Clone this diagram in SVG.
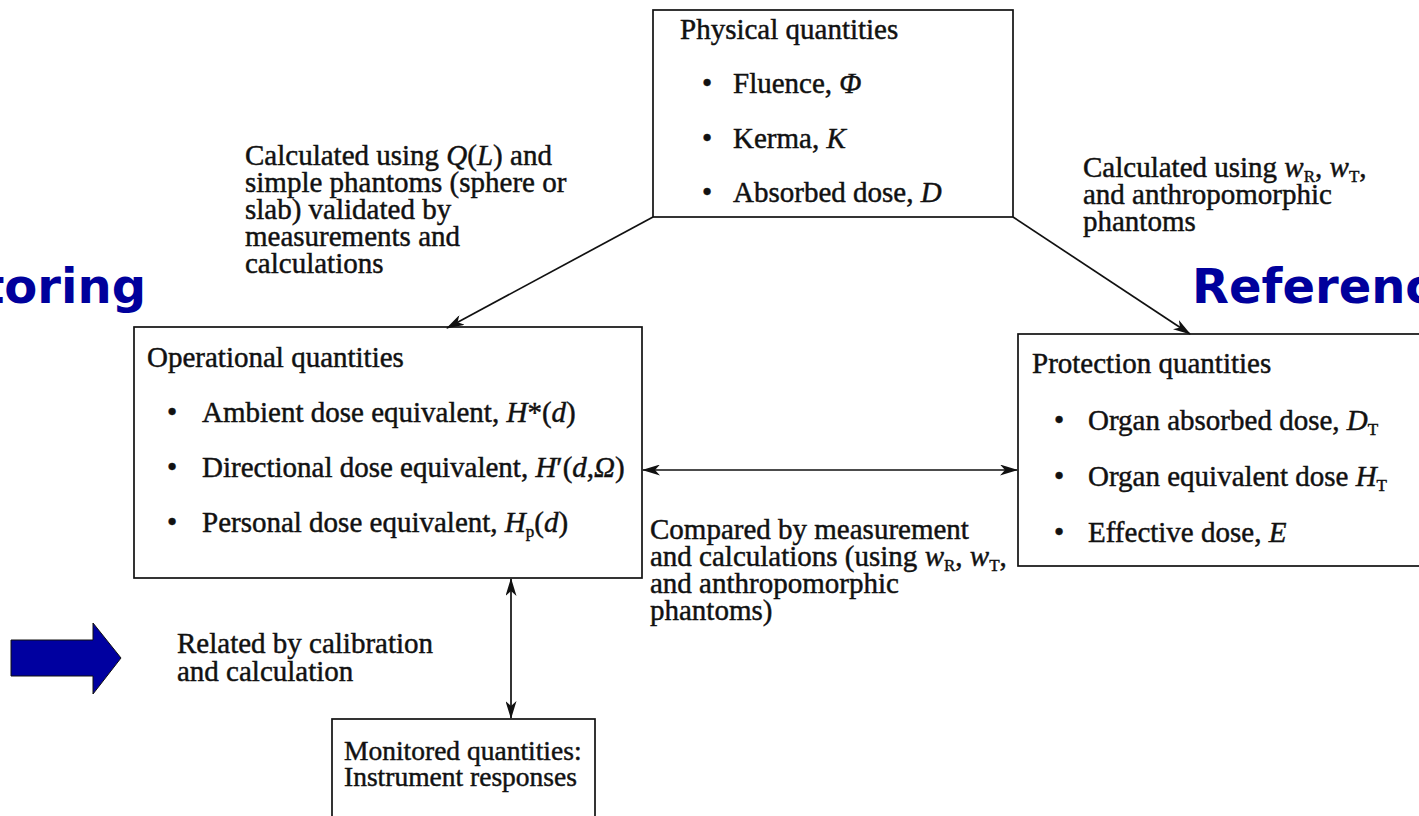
<svg xmlns="http://www.w3.org/2000/svg" width="1419" height="816" viewBox="0 0 1419 816">
<style>
.t{font-family:"Liberation Serif","Times New Roman",serif;font-size:29px;fill:#111;stroke:#111;stroke-width:0.45;}
.m{font-size:27.5px;}
.i{font-style:italic;}
.s{font-size:17px;}
.box{fill:none;stroke:#111;stroke-width:1.7;}
.ln{fill:none;stroke:#111;stroke-width:1.7;}
.big{font-family:"DejaVu Sans",Verdana,sans-serif;font-weight:bold;font-size:48px;fill:#00009c;}
</style>
<defs>
<marker id="ah" viewBox="0 0 18 11" refX="17" refY="5.5" markerWidth="18" markerHeight="11" markerUnits="userSpaceOnUse" orient="auto-start-reverse">
<path d="M0,0 L18,5.5 L0,11 L5,5.5 z" fill="#111"/>
</marker>
</defs>
<rect width="1419" height="816" fill="#ffffff"/>

<g id="side-labels">
<text class="big" x="146" y="303" text-anchor="end">toring</text>
<text class="big" x="1192" y="303">Referenc</text>
<polygon points="11,640 93,640 93,623 121,658 93,694 93,676 11,676" fill="#0000a0" stroke="#111" stroke-width="1"/>
</g>

<g id="connectors">
<line class="ln" x1="653" y1="217" x2="447" y2="328" marker-end="url(#ah)"/>
<line class="ln" x1="1013" y1="217" x2="1190" y2="334" marker-end="url(#ah)"/>
<line class="ln" x1="643" y1="470" x2="1017" y2="470" marker-start="url(#ah)" marker-end="url(#ah)"/>
<line class="ln" x1="511" y1="579" x2="511" y2="718" marker-start="url(#ah)" marker-end="url(#ah)"/>
</g>

<g id="physical">
<rect class="box" x="653" y="10" width="360" height="207"/>
<text class="t" x="680" y="39">Physical quantities</text>
<text class="t" x="702" y="93">•</text><text class="t" x="733" y="93">Fluence, <tspan class="i">Φ</tspan></text>
<text class="t" x="702" y="148">•</text><text class="t" x="733" y="148">Kerma, <tspan class="i">K</tspan></text>
<text class="t" x="702" y="202">•</text><text class="t" x="733" y="202">Absorbed dose, <tspan class="i">D</tspan></text>
</g>

<g id="operational">
<rect class="box" x="134" y="327" width="508" height="251"/>
<text class="t" x="147" y="367">Operational quantities</text>
<text class="t" x="167" y="422">•</text><text class="t" x="202" y="422">Ambient dose equivalent, <tspan class="i">H</tspan>*(<tspan class="i">d</tspan>)</text>
<text class="t" x="167" y="477">•</text><text class="t" x="202" y="477">Directional dose equivalent, <tspan class="i">H</tspan>′(<tspan class="i">d</tspan>,<tspan class="i">Ω</tspan>)</text>
<text class="t" x="167" y="532">•</text><text class="t" x="202" y="532">Personal dose equivalent, <tspan class="i">H</tspan><tspan class="s" dy="5">p</tspan><tspan dy="-5">(</tspan><tspan class="i">d</tspan>)</text>
</g>

<g id="protection">
<rect class="box" x="1018" y="334" width="430" height="232"/>
<text class="t" x="1032" y="373">Protection quantities</text>
<text class="t" x="1054" y="430">•</text><text class="t" x="1088" y="430">Organ absorbed dose, <tspan class="i">D</tspan><tspan class="s" dy="5">T</tspan></text>
<text class="t" x="1054" y="486">•</text><text class="t" x="1088" y="486">Organ equivalent dose <tspan class="i">H</tspan><tspan class="s" dy="5">T</tspan></text>
<text class="t" x="1054" y="542">•</text><text class="t" x="1088" y="542">Effective dose, <tspan class="i">E</tspan></text>
</g>

<g id="monitored">
<rect class="box" x="332" y="719" width="263" height="120"/>
<text class="t m" x="344" y="760">Monitored quantities:<tspan x="344" y="786">Instrument responses</tspan></text>
</g>

<g id="label-left">
<text class="t" x="245" y="165">Calculated using <tspan class="i">Q</tspan>(<tspan class="i">L</tspan>) and<tspan x="245" y="192">simple phantoms (sphere or</tspan><tspan x="245" y="219">slab) validated by</tspan><tspan x="245" y="246">measurements and</tspan><tspan x="245" y="273">calculations</tspan></text>
</g>

<g id="label-right">
<text class="t" x="1083" y="177">Calculated using <tspan class="i">w</tspan><tspan class="s" dy="5">R</tspan><tspan dy="-5">, </tspan><tspan class="i">w</tspan><tspan class="s" dy="5">T</tspan><tspan dy="-5">,</tspan><tspan x="1083" y="204">and anthropomorphic</tspan><tspan x="1083" y="231">phantoms</tspan></text>
</g>

<g id="label-compared">
<text class="t" x="650" y="539">Compared by measurement<tspan x="650" y="566">and calculations (using </tspan><tspan class="i">w</tspan><tspan class="s" dy="5">R</tspan><tspan dy="-5">, </tspan><tspan class="i">w</tspan><tspan class="s" dy="5">T</tspan><tspan dy="-5">,</tspan><tspan x="650" y="593">and anthropomorphic</tspan><tspan x="650" y="620">phantoms)</tspan></text>
</g>

<g id="label-related">
<text class="t" x="177" y="653">Related by calibration<tspan x="177" y="681">and calculation</tspan></text>
</g>
</svg>
